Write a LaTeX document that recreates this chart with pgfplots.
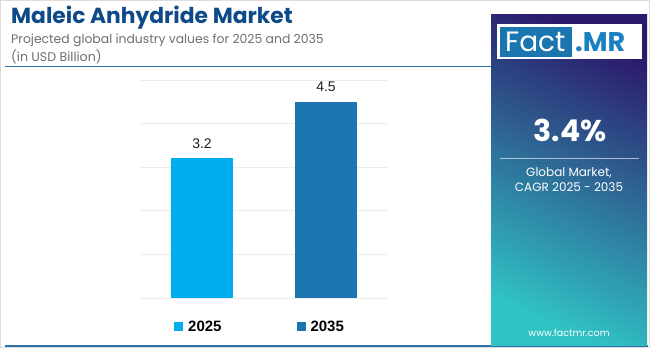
\documentclass[border=0pt]{standalone}
\usepackage{pgfplots}
\pgfplotsset{compat=1.18}
\usepackage{fontspec}
\setmainfont{Poppins}
\newfontfamily\arialf{Liberation Sans}
\definecolor{titleblue}{HTML}{0D4A87}
\definecolor{subgrey}{HTML}{6E6E6E}
\definecolor{lineblue}{HTML}{2C74AA}
\definecolor{cA}{HTML}{00AEEF}
\definecolor{cB}{HTML}{1B75AE}
\definecolor{gridc}{HTML}{ECECEC}
\definecolor{pTop}{HTML}{2C1B6C}
\definecolor{pBot}{HTML}{30C2C5}
\definecolor{logoblue}{HTML}{1B75AE}
\definecolor{mrblue}{HTML}{1B80C2}
\begin{document}
\begin{tikzpicture}
\path[use as bounding box] (0pt,0pt) rectangle (650pt,348pt);
\draw[color={rgb,255:red,220;green,220;blue,220}, line width=0.8pt] (0.5pt,0.5pt) rectangle (649.5pt,347.5pt);
% title
\node[anchor=base west, inner sep=0pt, text=titleblue] at (11pt,324pt) {\fontsize{21.8}{24}\selectfont\bfseries Maleic Anhydride Market};
\node[anchor=base west, inner sep=0pt, text=subgrey] at (11pt,304.5pt) {\fontsize{12.4}{16}\selectfont Projected global industry values for 2025 and 2035};
\node[anchor=base west, inner sep=0pt, text=subgrey] at (11pt,286.5pt) {\fontsize{12.6}{16}\selectfont (in USD Billion)};
\draw[lineblue, line width=1.6pt] (5pt,281.5pt) -- (491pt,281.5pt);
\draw[lineblue, line width=1.6pt] (5pt,2pt) -- (648pt,2pt);
% chart
\begin{axis}[
  at={(140pt,50pt)}, anchor=south west,
  scale only axis, width=248pt, height=218pt,
  ymin=0, ymax=5, xmin=-0.5, xmax=1.5,
  ytick={0,1,2,3,4,5}, yticklabels={}, xtick=\empty,
  ymajorgrids, grid style={gridc, line width=0.8pt},
  axis line style={draw=none}, major tick style={draw=none},
  /pgf/number format/assume math mode=true,
  /pgf/number format/fixed, /pgf/number format/precision=1,
  ybar, bar width=62pt, bar shift=0pt,
  nodes near coords,
  every node near coord/.append style={font=\arialf\fontsize{14}{16}\selectfont, text={rgb,255:red,30;green,30;blue,30}, inner sep=0pt, yshift=10pt, anchor=south},
  legend columns=2,
  legend style={at={(rel axis cs:0.137,-0.133)}, anchor=west, draw=none, fill=none, inner sep=0pt,
    nodes={inner sep=0pt}, font=\arialf\bfseries\fontsize{15}{17}\selectfont,
    /tikz/every odd column/.append style={column sep=5pt},
    /tikz/every even column/.append style={column sep=75pt}},
  legend image code/.code={\fill[#1] (0pt,-4.5pt) rectangle (9pt,4.5pt);},
]
\addplot[fill=cA, draw=none] coordinates {(0,3.2)};
\addplot[fill=cB, draw=none] coordinates {(1,4.5)};
\legend{2025,2035}
\end{axis}
% right panel
\shade[top color=pTop, bottom color=pBot, shading angle=-25] (491pt,3pt) rectangle (647pt,333pt);
\fill[white] (497pt,289pt) rectangle (642pt,324pt);
\fill[logoblue] (500pt,291pt) rectangle (572pt,321pt);
\node[anchor=base west, inner sep=0pt, text=white] at (505pt,296pt) {\fontsize{28}{30}\selectfont Fact};
\node[anchor=base west, inner sep=0pt, text=mrblue] at (575pt,296pt) {\fontsize{27}{30}\selectfont\bfseries .MR};
\node[anchor=base, inner sep=0pt, text=white] at (570pt,206pt) {\fontsize{30}{32}\selectfont\bfseries 3.4\%};
\draw[white, opacity=0.6, line width=1pt] (500pt,189pt) -- (639pt,189pt);
\node[anchor=base, inner sep=0pt, text=white] at (569pt,171pt) {\fontsize{12}{14}\selectfont Global Market,};
\node[anchor=base, inner sep=0pt, text=white] at (569pt,156pt) {\fontsize{12}{14}\selectfont CAGR 2025 - 2035};
\node[anchor=base, inner sep=0pt, text=white] at (569pt,12pt) {\fontsize{9.5}{11}\selectfont www.factmr.com};
\end{tikzpicture}
\end{document}
